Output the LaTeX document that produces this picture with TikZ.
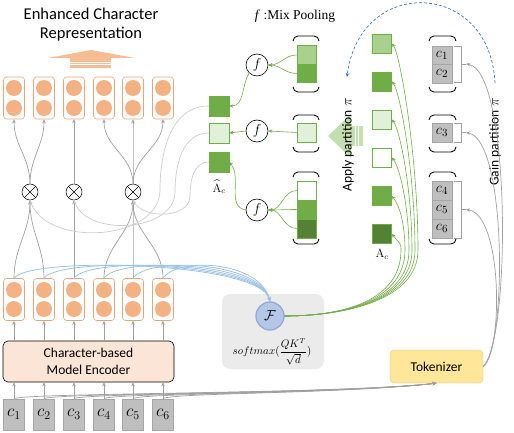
\documentclass[tikz,border=0pt]{standalone}
\usepackage{fontspec}
\usepackage{amsmath}
\setsansfont{Carlito}
\newfontfamily\timesrm{Liberation Serif}
\usetikzlibrary{positioning}
\usetikzlibrary{arrows.meta}

\definecolor{vecfill}{HTML}{F4B183}
\definecolor{vecline}{HTML}{E3A57E}
\definecolor{encfill}{HTML}{FBE5D6}
\definecolor{glight}{HTML}{A9D18E}
\definecolor{gmid}{HTML}{70AD47}
\definecolor{gpale}{HTML}{E2F0D9}
\definecolor{gdark}{HTML}{548235}
\definecolor{charfill}{HTML}{BFBFBF}
\definecolor{charline}{HTML}{A6A6A6}
\definecolor{linkgray}{HTML}{A0A0A0}
\definecolor{softgray}{HTML}{CCCCCC}
\definecolor{attnblue}{HTML}{9DC3E6}
\definecolor{ffill}{HTML}{B4C7E7}
\definecolor{fline}{HTML}{8FAADC}
\definecolor{tokfill}{HTML}{FFE699}
\definecolor{tokline}{HTML}{F4C56B}
\definecolor{panelgray}{HTML}{EBEBEB}
\definecolor{dashblue}{HTML}{4472C4}

\begin{document}
\begin{tikzpicture}[x=1pt,y=-1pt,
   tip/.style={-{Stealth[length=4pt,width=3.5pt]}},
   vec/.style={draw=vecline, rounded corners=3pt, minimum width=21pt, minimum height=42pt, line width=0.6pt},
   ball/.style={circle, fill=vecfill, minimum size=16pt, inner sep=0pt},
   chr/.style={draw=charline, fill=charfill, minimum width=21pt, minimum height=31pt, inner sep=0pt, font=\fontsize{18}{18}\selectfont},
   tchr/.style={draw=charline, fill=charfill, minimum width=20pt, minimum height=18.5pt, inner sep=0pt, font=\fontsize{15}{15}\selectfont},
   sq/.style={draw=gmid, minimum width=19pt, minimum height=19pt, inner sep=0pt, line width=0.6pt},
   mul/.style={circle, draw, minimum size=16pt, inner sep=0pt, line width=0.5pt},
   pool/.style={circle, draw, minimum size=22pt, inner sep=0pt, line width=0.6pt, font=\fontsize{15}{15}\selectfont},
   lnk/.style={draw=linkgray, line width=0.7pt, tip},
   soft/.style={draw=softgray, line width=0.7pt, tip},
   blu/.style={draw=attnblue, line width=0.8pt, tip},
   garr/.style={draw=gmid, line width=0.6pt, tip},
   lbl/.style={font=\sffamily\fontsize{13.5}{17}\selectfont, align=center}]
\useasboundingbox (0,0) rectangle (514,433);

\node[font=\sffamily\fontsize{16.5}{19}\selectfont, align=center] (title) at (91,25) {Enhanced Character\\Representation};
\fill[vecfill, opacity=0.85] (48,58) -- (91,50) -- (135,58) -- cycle;
\fill[vecfill, opacity=0.85] (70,58) rectangle (111,68);
\draw[white, line width=0.5pt] (70,62) -- (111,62) (70,64.5) -- (111,64.5);

\node[draw, fill=encfill, rounded corners=5pt, minimum width=171pt, minimum height=41pt, line width=0.6pt, lbl] (enc) at (88.5,361.5) {Character-based\\Model Encoder};

\foreach \x [count=\i] in {14,44,74,104,133,163} {
  \node[vec] (up\i) at (\x,98) {};
  \node[ball] at (\x,88) {};
  \node[ball] at (\x,108) {};
  \node[vec] (low\i) at (\x,299.5) {};
  \node[ball] at (\x,290) {};
  \node[ball] at (\x,309) {};
  \node[chr] (in\i) at (\x,414.5) {$c_{\i}$};
  \draw[lnk] (in\i.north) -- (in\i.north |- enc.south);
  \draw[lnk] (low\i.south |- enc.north) -- (low\i.south);
}

\foreach \x [count=\i] in {30,74,133} {
  \node[mul] (mul\i) at (\x,192) {};
  \draw[line width=0.5pt] (mul\i.north west) -- (mul\i.south east) (mul\i.north east) -- (mul\i.south west);
}

% attention
\fill[panelgray, rounded corners=8pt] (222,294) rectangle (324,369);
\node[circle, fill=ffill, draw=fline, line width=1.3pt, minimum size=28pt, inner sep=0pt, font=\fontsize{14}{14}\selectfont] (attn) at (270,316) {$\mathcal{F}$};
\node[font=\fontsize{10.5}{12}\selectfont, inner sep=1pt] (soft) at (272,352) {$softmax(\dfrac{QK^T}{\sqrt{d}})$};

\node[draw=tokline, fill=tokfill, rounded corners=4pt, minimum width=93pt, minimum height=33pt, lbl] (tok) at (436.5,366.5) {Tokenizer};

% squares
\foreach \y/\c [count=\i] in {43.5/glight,81.5/gmid,119.5/gpale,157.5/white,196/gmid,234/gdark}
  \node[sq, fill=\c] (a\i) at (382,\y) {};
\node[font=\fontsize{12}{12}\selectfont] (alab) at (382,254) {$\mathrm{A}_c$};

\foreach \y/\c [count=\i] in {106/gmid,133/gpale,162/gmid}
  \node[sq, minimum width=20pt, minimum height=20pt, fill=\c] (ah\i) at (219,\y) {};
\node[font=\fontsize{12}{12}\selectfont, inner sep=1pt] (ahlab) at (219,187) {$\widehat{\mathrm{A}}_c$};

\foreach \y [count=\i] in {65,131,210}
  \node[pool] (f\i) at (257,\y) {$f$};

\node[sq, minimum height=18.5pt, fill=glight] (p11) at (306.5,55) {};
\node[sq, minimum height=18.5pt, fill=gmid] (p12) at (306.5,73.5) {};
\node[sq, minimum height=19pt, fill=gpale] (p2) at (306.5,132.5) {};
\node[sq, minimum height=19pt, fill=white] (p31) at (306.5,190.5) {};
\node[sq, minimum height=19pt, fill=gmid] (p32) at (306.5,209.5) {};
\node[sq, minimum height=19pt, fill=gdark] (p33) at (306.5,228.5) {};

\foreach \y/\t [count=\i] in {55/1,73.5/2,132.5/3,190.5/4,209.5/5,228.5/6}
  \node[tchr] (t\i) at (442,\y) {$c_{\t}$};

\foreach \xa/\xb in {293/319,429/456}
  \foreach \yt/\yb in {36/92,115/152,172/244}
    \draw[line width=0.9pt] (\xa,\yt+5) to[out=90,in=180] (\xa+5,\yt) -- (\xb-5,\yt) to[out=0,in=90] (\xb,\yt+5)
      (\xa,\yb-5) to[out=-90,in=180] (\xa+5,\yb) -- (\xb-5,\yb) to[out=0,in=-90] (\xb,\yb-5);

\foreach \yt/\yb/\ym [count=\k] in {46/82/64,123/142/132.5,181/238/209.5} {
  \draw[linkgray, line width=0.6pt] (454,\yt) -- (461,\yt) -- (461,\yb) -- (454,\yb) (461,\ym) -- (466,\ym);
  \coordinate (tick\k) at (466,\ym);
}

\node[font=\fontsize{13.5}{15}\selectfont] (mixlab) at (295,16) {\timesrm\textit{f} :Mix Pooling};

\fill[glight, opacity=0.7] (328,136) -- (351,114) -- (351,158) -- cycle;
\fill[glight, opacity=0.7] (351,126) rectangle (363,146);
\draw[white, line width=0.5pt] (355,126) -- (355,146) (358,126) -- (358,146);
\node[lbl, rotate=90] (apply) at (348,145) {Apply partition $\pi$};
\node[lbl, rotate=90] (gain) at (495,142) {Gain partition $\pi$};
\coordinate (dashend) at (347,77);

% connectors
\draw[lnk] (mul1.north) to[out=90,in=-90] (up1.south);
\draw[lnk] (mul1.north) to[out=90,in=-90] (up2.south);
\draw[lnk] (mul2.north) -- (up3.south);
\foreach \i in {4,5,6}
  \draw[lnk] (mul3.north) to[out=90,in=-90] (up\i.south);
\draw[lnk] (low1.north) to[out=90,in=-90] (mul1.south);
\draw[lnk] (low2.north) to[out=90,in=-90] (mul1.south);
\draw[lnk] (low3.north) -- (mul2.south);
\foreach \i in {4,5,6}
  \draw[lnk] (low\i.north) to[out=90,in=-90] (mul3.south);

\draw[soft] (ah1.west) to[out=180,in=90] (160,190) to[out=-90,in=-70] (mul1.south);
\draw[soft] (ah2.west) to[out=180,in=90] (175,192) to[out=-90,in=-70] (mul2.south);
\draw[soft] (ah3.west) to[out=180,in=90] (190,196) to[out=-90,in=-60] (mul3.south);

\foreach \i in {1,...,6}
  \draw[blu] (low\i.north) .. controls +(15,-22) and +(-10,-40) .. (attn.north);

\foreach \i/\y/\xm in {1/43.5/418,2/81.5/415,3/119.5/412,4/157.5/409,5/196/405,6/234/401}
  \draw[garr] (attn.east) .. controls (345,316) and (\xm,300) .. (\xm,250)
    .. controls (\xm,{250-0.45*(250-\y)}) and (400,\y+10) .. (a\i.east);

\draw[garr] (p11.west) to[out=180,in=0] (f1.east);
\draw[garr] (p12.west) to[out=180,in=0] (f1.east);
\draw[garr] (p2.west) -- (f2.east);
\foreach \i in {1,2,3}
  \draw[garr] (p3\i.west) to[out=180,in=0] (f3.east);
\draw[garr] (f1.south west) to[out=-120,in=0] (ah1.east);
\draw[garr] (f2.west) -- (ah2.east);
\draw[garr] (f3.west) to[out=170,in=-50] (ah3.east);

\foreach \i in {1,...,6}
  \draw[lnk] (in\i.north) .. controls +(4,-6) and (340,394) .. (tok.south);

\draw[lnk] (tok.east) .. controls (503,352) and (503,215) .. (tick3);
\draw[lnk] (tok.east) .. controls (507,346) and (507,140) .. (tick2);
\draw[lnk] (tok.east) .. controls (511,340) and (511,70) .. (tick1);

\draw[dashblue, dash pattern=on 3pt off 2pt, line width=0.7pt, tip] ([yshift=12pt]gain.east) .. controls (490,-20) and (360,-25) .. (dashend);
\end{tikzpicture}
\end{document}
